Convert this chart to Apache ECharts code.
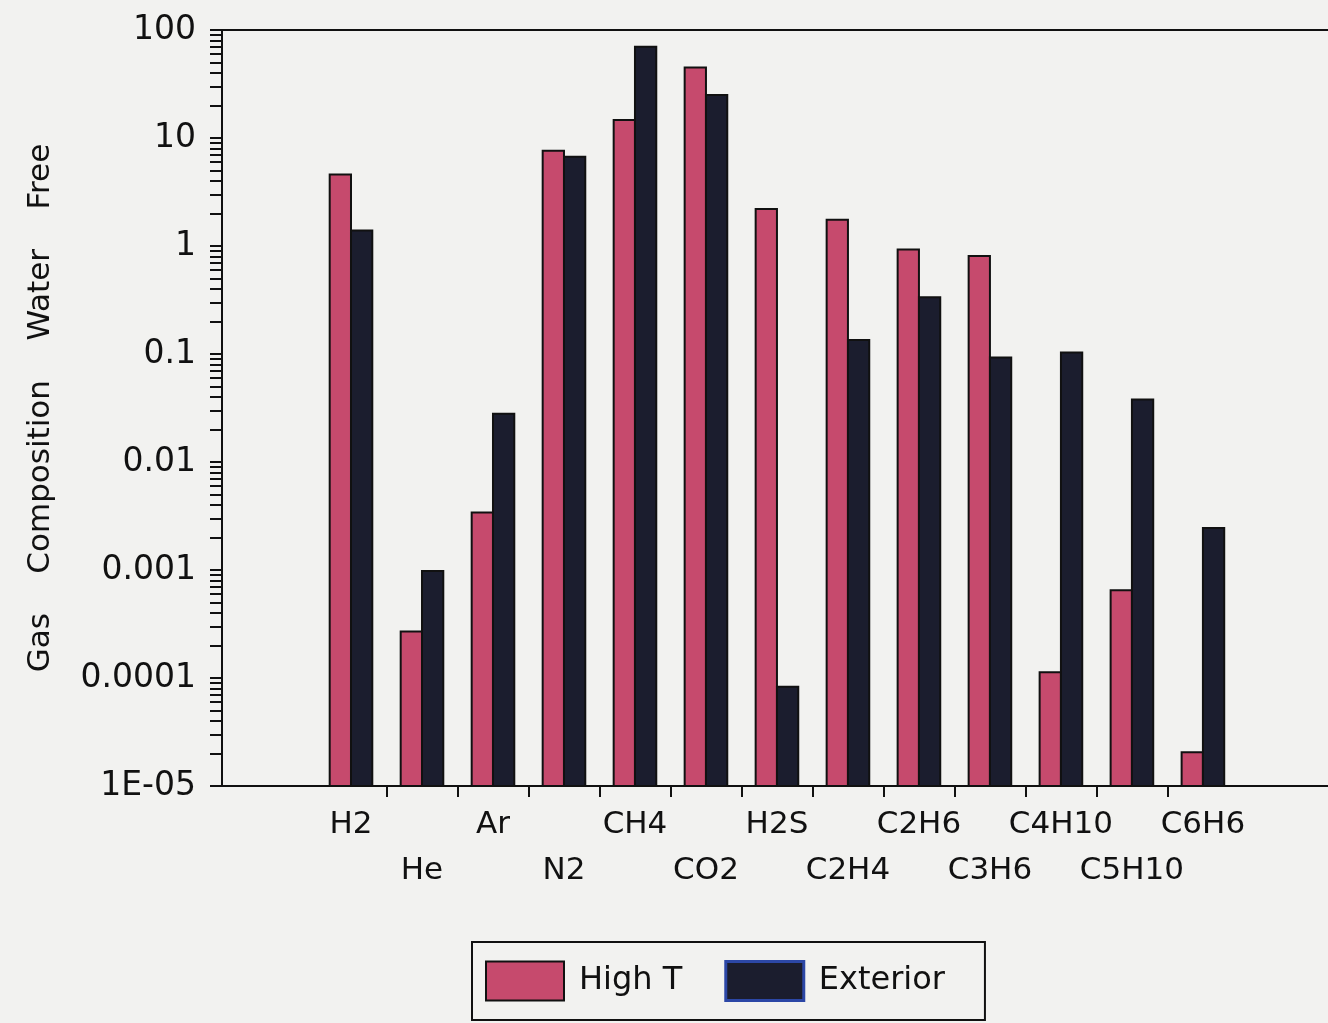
<!DOCTYPE html>
<html>
<head>
<meta charset="utf-8">
<script src="https://cdn.jsdelivr.net/npm/echarts@6/dist/echarts.min.js"></script>
<style>
  html, body { margin: 0; padding: 0; background: #f2f2f0; }
  #chart { width: 1328px; height: 1023px; }
</style>
</head>
<body>
<div id="chart"></div>
<script>
// Gas species along the x axis
const categories = ['H2', 'He', 'Ar', 'N2', 'CH4', 'CO2', 'H2S', 'C2H4', 'C2H6', 'C3H6', 'C4H10', 'C5H10', 'C6H6'];

// Water-free gas composition for each sample
const highT    = [4.6, 0.00027, 0.0034, 7.6, 14.7, 45, 2.2, 1.75, 0.93, 0.81, 0.000113, 0.00065, 0.0000205];
const exterior = [1.39, 0.00098, 0.028, 6.7, 70, 25, 0.000083, 0.135, 0.335, 0.093, 0.103, 0.038, 0.00245];

// Decade tick labels of the log axis, lowest first
const yTickLabels = ['1E-05', '0.0001', '0.001', '0.01', '0.1', '1', '10', '100'];

const Y_MIN = 1e-5;
const Y_MAX = 100;
const X_MIN = -1.817;
const X_MAX = 13.79;
const PINK = '#c64a6d';
const DARK = '#1b1d2e';
const INK = '#111111';
const FONT = 'DejaVu Sans';
const BAR_RATIO = 0.30;

// minor ticks at 1..9 x 10^k for every decade, plus the top value
const yTicks = [];
for (let e = -5; e < 2; e++) {
  for (let m = 1; m <= 9; m++) yTicks.push(m * Math.pow(10, e));
}
yTicks.push(Y_MAX);

// category names alternate between two label rows
const upperRow = categories.map((_, i) => i).filter(i => i % 2 === 0);
const lowerRow = categories.map((_, i) => i).filter(i => i % 2 === 1);
const xTickValues = categories.slice(1).map((_, i) => i + 0.5);

// one bar per category, drawn from the axis floor up to its value
function barSeries(name, values, color, side) {
  return {
    type: 'custom',
    name: name,
    xAxisIndex: 0,
    data: values.map((v, i) => [i, v]),
    encode: { x: 0, y: 1 },
    itemStyle: { color: color },
    clip: true,
    renderItem: function (params, api) {
      const x = api.value(0);
      const v = api.value(1);
      const top = api.coord([x, v]);
      const base = api.coord([x, Y_MIN]);
      const band = api.coord([x + 1, v])[0] - top[0];
      const w = band * BAR_RATIO;
      return {
        type: 'rect',
        shape: {
          x: side < 0 ? top[0] - w : top[0],
          y: top[1],
          width: w,
          height: base[1] - top[1]
        },
        style: { fill: api.visual('color'), stroke: INK, lineWidth: 2 }
      };
    }
  };
}

const labelStyle = {
  fontSize: 31,
  lineHeight: 46,
  fontFamily: FONT,
  color: INK,
  hideOverlap: false,
  showMinLabel: true,
  showMaxLabel: true,
  formatter: function (v) {
    return categories[Math.round(v)] || '';
  }
};

const chart = echarts.init(document.getElementById('chart'), null, { renderer: 'canvas' });

chart.setOption({
  backgroundColor: '#f2f2f0',
  animation: false,
  textStyle: { fontFamily: FONT, color: INK },
  grid: {
    left: 222,
    right: -2,
    top: 30,
    bottom: 237,
    show: true,
    borderColor: INK,
    borderWidth: 2,
    backgroundColor: 'transparent',
    containLabel: false,
    outerBoundsMode: 'none'
  },
  legend: {
    left: 472,
    top: 942,
    orient: 'horizontal',
    itemWidth: 78,
    itemHeight: 39,
    itemGap: 42,
    padding: [18, 40, 18, 13],
    borderColor: INK,
    borderWidth: 2,
    selectedMode: false,
    textStyle: { fontSize: 32, fontFamily: FONT, color: INK, padding: [0, 0, 0, 10] },
    data: [
      { name: 'High T', icon: 'rect', itemStyle: { color: PINK, borderColor: INK, borderWidth: 2 } },
      { name: 'Exterior', icon: 'rect', itemStyle: { color: DARK, borderColor: '#2c47a6', borderWidth: 3 } }
    ]
  },
  xAxis: [
    {
      type: 'value',
      position: 'bottom',
      min: X_MIN,
      max: X_MAX,
      splitLine: { show: false },
      axisLine: { show: true, onZero: false, lineStyle: { color: INK, width: 2 } },
      axisTick: {
        show: true,
        customValues: xTickValues,
        length: 11,
        lineStyle: { color: INK, width: 2 }
      },
      axisLabel: Object.assign({ customValues: upperRow, margin: 16 }, labelStyle)
    },
    {
      type: 'value',
      position: 'bottom',
      offset: 0,
      min: X_MIN,
      max: X_MAX,
      splitLine: { show: false },
      axisLine: { show: false, onZero: false },
      axisTick: { show: false },
      axisLabel: Object.assign({ customValues: lowerRow, margin: 62 }, labelStyle)
    }
  ],
  yAxis: {
    type: 'log',
    logBase: 10,
    min: Y_MIN,
    max: Y_MAX,
    interval: 1,
    name: 'Gas    Composition    Water    Free',
    nameLocation: 'middle',
    nameRotate: 90,
    nameGap: 166,
    nameTextStyle: { fontSize: 31, fontFamily: FONT, color: INK },
    splitLine: { show: false },
    axisLine: { show: true, onZero: false, lineStyle: { color: INK, width: 2 } },
    axisTick: {
      show: true,
      customValues: yTicks,
      length: 12,
      lineStyle: { color: INK, width: 2 }
    },
    axisLabel: {
      margin: 26,
      fontSize: 33,
      fontFamily: FONT,
      color: INK,
      formatter: function (v) {
        const e = Math.round(Math.log10(v));
        return yTickLabels[e + 5] !== undefined ? yTickLabels[e + 5] : '';
      }
    }
  },
  series: [
    barSeries('High T', highT, PINK, -1),
    barSeries('Exterior', exterior, DARK, 1)
  ]
});
</script>
</body>
</html>
